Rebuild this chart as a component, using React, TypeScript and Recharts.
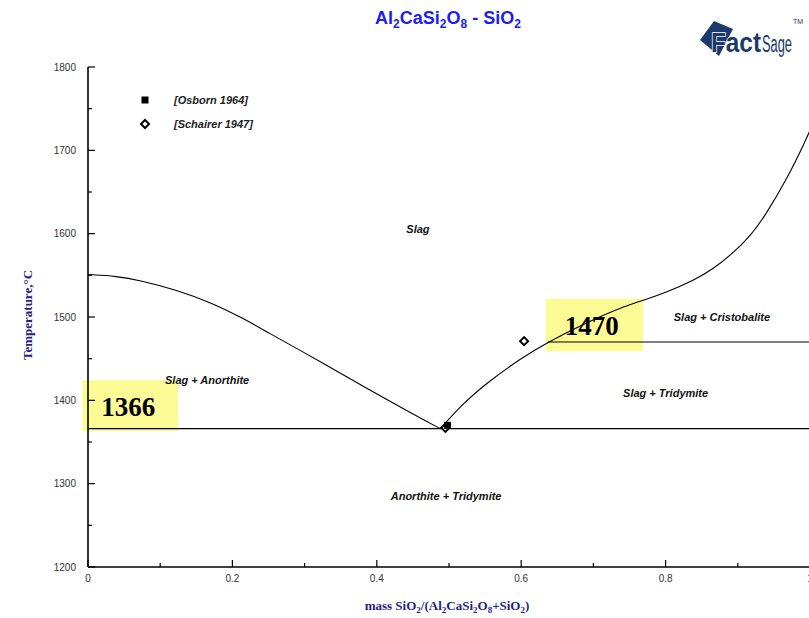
import React from "react";
import {
  ComposedChart,
  Line,
  Scatter,
  XAxis,
  YAxis,
  ReferenceLine,
  ReferenceArea,
  ReferenceDot,
  Legend,
} from "recharts";

// Al2CaSi2O8 - SiO2 phase diagram (mass fraction SiO2 vs temperature, °C)

const xTicks = [0, 0.1, 0.2, 0.3, 0.4, 0.5, 0.6, 0.7, 0.8, 0.9, 1];
const xLabels = ["0", "", "0.2", "", "0.4", "", "0.6", "", "0.8", "", "1"];
const yTicks = [1200, 1250, 1300, 1350, 1400, 1450, 1500, 1550, 1600, 1650, 1700, 1750, 1800];

// anorthite liquidus, from pure anorthite down to the eutectic
const anorthiteLiquidus = [
  { x: 0, t: 1551 },
  { x: 0.04, t: 1549 },
  { x: 0.072, t: 1544 },
  { x: 0.121, t: 1533 },
  { x: 0.172, t: 1517 },
  { x: 0.218, t: 1497 },
  { x: 0.252, t: 1480 },
  { x: 0.298, t: 1458 },
  { x: 0.345, t: 1435 },
  { x: 0.391, t: 1412 },
  { x: 0.437, t: 1390 },
  { x: 0.464, t: 1377 },
  { x: 0.488, t: 1366 },
];

// silica liquidus (tridymite, then cristobalite above 1470)
const silicaLiquidus = [
  { x: 0.488, t: 1366 },
  { x: 0.52, t: 1397 },
  { x: 0.557, t: 1424 },
  { x: 0.599, t: 1450 },
  { x: 0.637, t: 1470 },
  { x: 0.692, t: 1494 },
  { x: 0.737, t: 1511 },
  { x: 0.769, t: 1520 },
  { x: 0.802, t: 1530 },
  { x: 0.839, t: 1544 },
  { x: 0.865, t: 1557 },
  { x: 0.894, t: 1577 },
  { x: 0.918, t: 1598 },
  { x: 0.936, t: 1619 },
  { x: 0.969, t: 1667 },
  { x: 0.994, t: 1712 },
  { x: 1, t: 1724 },
];

const eutecticT = 1366;
const transitionT = 1470;
const transitionLine = [
  { x: 0.637, t: 1470 },
  { x: 1, t: 1470 },
];

const osborn1964 = [{ x: 0.498, t: 1370 }];
const schairer1947 = [
  { x: 0.495, t: 1367 },
  { x: 0.604, t: 1471 },
];

const phaseLabels = [
  { x: 0.457, t: 1606, text: "Slag" },
  { x: 0.165, t: 1424, text: "Slag + Anorthite" },
  { x: 0.878, t: 1500, text: "Slag + Cristobalite" },
  { x: 0.8, t: 1409, text: "Slag + Tridymite" },
  { x: 0.496, t: 1285, text: "Anorthite + Tridymite" },
];

const NAVY = "#1f1f86";
const LOGO = "#1b3a6b";

const squareShape = (p: any) => (
  <rect x={p.cx - 3.5} y={p.cy - 3.5} width={7} height={7} fill="#000" />
);

const diamondShape = (p: any) => (
  <path
    d={`M${p.cx},${p.cy - 4} L${p.cx + 4},${p.cy} L${p.cx},${p.cy + 4} L${p.cx - 4},${p.cy} Z`}
    fill="#fff"
    stroke="#000"
    strokeWidth={2}
  />
);

// inward tick marks plus labels, drawn from the axis position
const makeXTick = (side: "bottom" | "top") => (props: any) => {
  const { x, y, index } = props;
  const major = index % 2 === 0;
  const len = major ? 7 : 4;
  const dir = side === "bottom" ? -1 : 1;
  return (
    <g>
      <line x1={x} y1={y} x2={x} y2={y + dir * len} stroke="#000" strokeWidth={1.2} />
      {side === "bottom" && (
        <text x={x} y={y + 15} textAnchor="middle" fontSize={10} fontFamily="Liberation Sans, Arial" fill="#333">
          {xLabels[index]}
        </text>
      )}
    </g>
  );
};

const makeYTick = (side: "left" | "right") => (props: any) => {
  const { x, y, payload } = props;
  const major = payload.value % 100 === 0;
  const len = major ? 7 : 4;
  const dir = side === "left" ? 1 : -1;
  return (
    <g>
      <line x1={x} y1={y} x2={x + dir * len} y2={y} stroke="#000" strokeWidth={1.2} />
      {side === "left" && major && (
        <text x={x - 12} y={y + 3.5} textAnchor="end" fontSize={10} fontFamily="Liberation Sans, Arial" fill="#333">
          {payload.value}
        </text>
      )}
    </g>
  );
};

const PhaseLabel = ({ viewBox, value }: any) => (
  <text
    x={viewBox.x + viewBox.width / 2}
    y={viewBox.y + viewBox.height / 2 + 4}
    textAnchor="middle"
    fontSize={11}
    fontWeight="bold"
    fontStyle="italic"
    fontFamily="Liberation Sans, Arial"
    fill="#111"
  >
    {value}
  </text>
);

const BoxLabel = ({ viewBox, value }: any) => (
  <text
    x={viewBox.x + 19}
    y={viewBox.y + 36}
    fontSize={27}
    fontWeight="bold"
    fontFamily="Liberation Serif, Times New Roman, serif"
    fill="#000"
  >
    {value}
  </text>
);

const LegendBox = ({ payload }: any) => (
  <div>
    {(payload || [])
      .filter((e: any) => e.type !== "none")
      .map((e: any) => (
        <div key={e.value} style={{ display: "flex", alignItems: "center", height: 24 }}>
          <svg width={20} height={12}>
            {e.value.startsWith("[Osborn")
              ? squareShape({ cx: 10, cy: 6 })
              : diamondShape({ cx: 10, cy: 6 })}
          </svg>
          <span
            style={{
              marginLeft: 19,
              fontSize: 11,
              fontWeight: "bold",
              fontStyle: "italic",
              fontFamily: "Liberation Sans, Arial",
              color: "#222",
            }}
          >
            {e.value}
          </span>
        </div>
      ))}
  </div>
);

export default function App() {
  return (
    <div
      style={{
        position: "absolute",
        left: 0,
        top: 0,
        width: 809,
        height: 618,
        overflow: "hidden",
        background: "#fff",
      }}
    >
      <ComposedChart width={810} height={618} margin={{ top: 67, right: 0, bottom: 0, left: 0 }}>
        <XAxis
          dataKey="x"
          type="number"
          domain={[0, 1]}
          ticks={xTicks}
          interval={0}
          height={51}
          tickSize={0}
          tickMargin={0}
          tick={makeXTick("bottom")}
          axisLine={{ stroke: "#000", strokeWidth: 1.6 }}
          allowDataOverflow
        />
        <XAxis
          xAxisId="top"
          orientation="top"
          dataKey="x"
          type="number"
          domain={[0, 1]}
          ticks={xTicks}
          interval={0}
          height={0}
          tickSize={0}
          tickMargin={0}
          tick={makeXTick("top")}
          axisLine={{ stroke: "#000", strokeWidth: 1.6 }}
          allowDataOverflow
        />
        <YAxis
          type="number"
          domain={[1200, 1800]}
          ticks={yTicks}
          interval={0}
          width={88}
          tickSize={0}
          tickMargin={0}
          tick={makeYTick("left")}
          axisLine={{ stroke: "#000", strokeWidth: 1.6 }}
          allowDataOverflow
        />
        <YAxis
          yAxisId="right"
          orientation="right"
          type="number"
          domain={[1200, 1800]}
          ticks={yTicks}
          interval={0}
          width={0}
          tickSize={0}
          tickMargin={0}
          tick={makeYTick("right")}
          axisLine={{ stroke: "#000", strokeWidth: 1.6 }}
          allowDataOverflow
        />

        <ReferenceArea
          x1={-0.008}
          x2={0.125}
          y1={1363}
          y2={1424}
          fill="#fdfb96"
          fillOpacity={1}
          stroke="none"
          ifOverflow="visible"
          label={<BoxLabel value={String(eutecticT)} />}
        />
        <ReferenceArea
          x1={0.634}
          x2={0.769}
          y1={1459}
          y2={1522}
          fill="#fdfb96"
          fillOpacity={1}
          stroke="none"
          ifOverflow="visible"
          label={<BoxLabel value={String(transitionT)} />}
        />

        <ReferenceLine y={eutecticT} stroke="#000" strokeWidth={1.2} />

        <Line
          data={anorthiteLiquidus}
          dataKey="t"
          type="basis"
          stroke="#000"
          strokeWidth={1.1}
          dot={false}
          legendType="none"
          isAnimationActive={false}
        />
        <Line
          data={silicaLiquidus}
          dataKey="t"
          type="basis"
          stroke="#000"
          strokeWidth={1.1}
          dot={false}
          legendType="none"
          isAnimationActive={false}
        />
        <Line
          data={transitionLine}
          dataKey="t"
          type="linear"
          stroke="#000"
          strokeWidth={1.2}
          dot={false}
          legendType="none"
          isAnimationActive={false}
        />

        <Scatter name="[Schairer 1947]" data={schairer1947} dataKey="t" shape={diamondShape} isAnimationActive={false} />
        <Scatter name="[Osborn 1964]" data={osborn1964} dataKey="t" shape={squareShape} isAnimationActive={false} />

        {phaseLabels.map((p) => (
          <ReferenceDot
            key={p.text}
            x={p.x}
            y={p.t}
            r={1}
            fill="none"
            stroke="none"
            label={<PhaseLabel value={p.text} />}
          />
        ))}

        <Legend
          layout="vertical"
          align="center"
          verticalAlign="middle"
          wrapperStyle={{ left: 135, top: 88, width: 170 }}
          itemSorter={(e: any) => (e.value.startsWith("[Osborn") ? 0 : 1)}
          content={LegendBox}
        />
      </ComposedChart>

      <svg
        width={809}
        height={618}
        style={{ position: "absolute", left: 0, top: 0, pointerEvents: "none" }}
      >
        <text
          x={448}
          y={24}
          textAnchor="middle"
          fontSize={18}
          fontWeight="bold"
          fontFamily="Liberation Sans, Arial"
          fill="#1c1cf0"
        >
          Al<tspan fontSize={12} dy={4}>2</tspan>
          <tspan dy={-4}>CaSi</tspan>
          <tspan fontSize={12} dy={4}>2</tspan>
          <tspan dy={-4}>O</tspan>
          <tspan fontSize={12} dy={4}>8</tspan>
          <tspan dy={-4}> - SiO</tspan>
          <tspan fontSize={12} dy={4}>2</tspan>
        </text>

        {/* FactSage logo */}
        <g>
          <polygon points="700,40 714,21 733,29 719,56" fill={LOGO} />
          <text
            x={711}
            y={52}
            fontSize={27}
            fontWeight="bold"
            fontFamily="Liberation Sans, Arial"
            fill={LOGO}
            stroke="#fff"
            strokeWidth={1.5}
            paintOrder="stroke"
            textLength={50}
            lengthAdjust="spacingAndGlyphs"
          >
            Fact
          </text>
          <text
            x={762}
            y={52}
            fontSize={23}
            fontFamily="Liberation Sans, Arial"
            fill={LOGO}
            textLength={30}
            lengthAdjust="spacingAndGlyphs"
          >
            Sage
          </text>
          <text
            x={793}
            y={24}
            fontSize={7}
            fontFamily="Liberation Sans, Arial"
            fill={LOGO}
            textLength={10}
            lengthAdjust="spacingAndGlyphs"
          >
            TM
          </text>
        </g>

        <text
          transform="translate(32,315) rotate(-90)"
          textAnchor="middle"
          fontSize={13}
          fontWeight="bold"
          fontFamily="Liberation Serif, Times New Roman, serif"
          fill={NAVY}
        >
          Temperature,°C
        </text>

        <text
          x={447}
          y={610}
          textAnchor="middle"
          fontSize={13}
          fontWeight="bold"
          fontFamily="Liberation Serif, Times New Roman, serif"
          fill={NAVY}
        >
          mass SiO<tspan fontSize={9} dy={3}>2</tspan>
          <tspan dy={-3}>/(Al</tspan>
          <tspan fontSize={9} dy={3}>2</tspan>
          <tspan dy={-3}>CaSi</tspan>
          <tspan fontSize={9} dy={3}>2</tspan>
          <tspan dy={-3}>O</tspan>
          <tspan fontSize={9} dy={3}>8</tspan>
          <tspan dy={-3}>+SiO</tspan>
          <tspan fontSize={9} dy={3}>2</tspan>
          <tspan dy={-3}>)</tspan>
        </text>
      </svg>
    </div>
  );
}
